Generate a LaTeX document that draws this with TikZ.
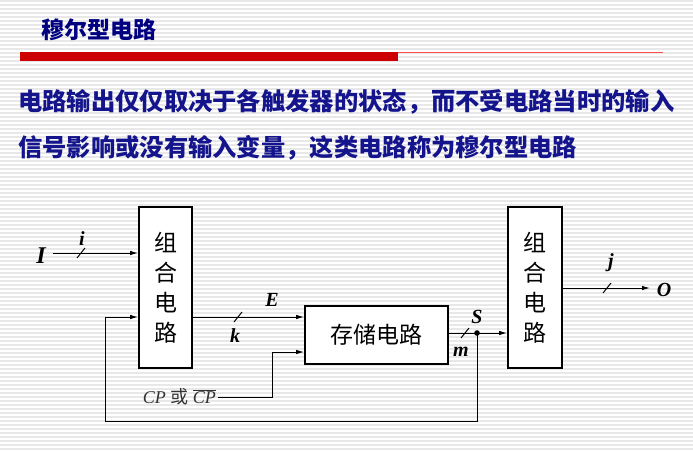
\documentclass[tikz,border=0pt]{standalone}
\usepackage{fontspec}
\setmainfont{Liberation Serif}
\newfontfamily\cjk{Noto Sans CJK SC}
\usetikzlibrary{arrows.meta}
\definecolor{navy}{RGB}{0,0,128}
\definecolor{tblue}{RGB}{20,20,140}
\begin{document}
\begin{tikzpicture}[x=1pt,y=-1pt,
  blk/.style={draw,line width=1.8pt,fill=white,inner sep=0pt},
  wire/.style={line width=1pt},
  arr/.style={wire,-{Latex[length=8pt,width=4.5pt]}},
  lbl/.style={font=\bfseries\itshape\fontsize{20}{20}\selectfont},
  ctext/.style={font=\cjk\fontsize{23}{30}\selectfont,align=center}]
\useasboundingbox (0,0) rectangle (693,450);
\fill[white] (0,0) rectangle (693,450);
\foreach \y in {1,5,...,449} \draw[black!9,line width=1.5pt] (0,\y) -- (693,\y);
\node[anchor=west,text=navy,font=\cjk\bfseries\fontsize{23}{23}\selectfont] (title) at (38,30) {穆尔型电路};
\fill[red!80!black] (20,52) rectangle (398,61);
\draw[red!70,line width=0.8pt] (398,52.5) -- (663,52.5);
\node[anchor=west,text=tblue,font=\cjk\bfseries\fontsize{24.3}{24}\selectfont,inner sep=0pt] (l1) at (18,102) {电路输出仅仅取决于各触发器的状态，而不受电路当时的输入};
\node[anchor=west,text=tblue,font=\cjk\bfseries\fontsize{24.3}{24}\selectfont,inner sep=0pt] (l2) at (18,148) {信号影响或没有输入变量，这类电路称为穆尔型电路};
% boxes
\node[blk,minimum width=53pt,minimum height=161pt] (c1) at (165.5,287.5) {};
\node[ctext] at (c1) {组\\合\\电\\路};
\node[blk,minimum width=143pt,minimum height=58pt] (st) at (376.5,335) {};
\node[ctext] at (st) {存储电路};
\node[blk,minimum width=54pt,minimum height=161pt] (c2) at (535,287.5) {};
\node[ctext] at (c2) {组\\合\\电\\路};
% coordinates
\coordinate (I) at (53,253);
\coordinate (dot) at (477,333);
\coordinate (O) at (650,288);
\coordinate (cp) at (218,397);
\node[lbl,font=\bfseries\itshape\fontsize{24}{24}\selectfont] (Il) at (41,256) {I};
\node[lbl] (il) at (82,239) {i};
\draw[arr] (I) -- (I -| c1.west);
\draw[wire] (77,258) -- (85,248);
\draw[arr] (c1.east |- 0,317) -- (st.west |- 0,317);
\draw[wire] (234,322) -- (242,312);
\node[lbl] (El) at (272,300) {E};
\node[lbl] (kl) at (235,336) {k};
\draw[arr] (st.east |- dot) -- (c2.west |- dot);
\draw[wire] (461,338) -- (469,328);
\fill (dot) circle (2.8pt);
\node[lbl] (Sl) at (477,317) {S};
\node[lbl] (ml) at (461,352) {m};
\draw[arr] (dot) -- (477,421) -- (105,421) -- (105,317) -- (c1.west |- 0,317);
\draw[arr] (cp) -- (272,397) -- (272,352) -- (st.west |- 0,352);
\node[anchor=east,text=black!80,font=\itshape\fontsize{18}{18}\selectfont,inner sep=2pt] (cpl) at (cp) {CP {\upshape\cjk 或} $\overline{\mathit{CP}}$};
\draw[arr] (c2.east |- O) -- (O);
\draw[wire] (603,293) -- (611,283);
\node[lbl] (jl) at (611,263) {j};
\node[lbl] (Ol) at (664,290) {O};
\end{tikzpicture}
\end{document}
